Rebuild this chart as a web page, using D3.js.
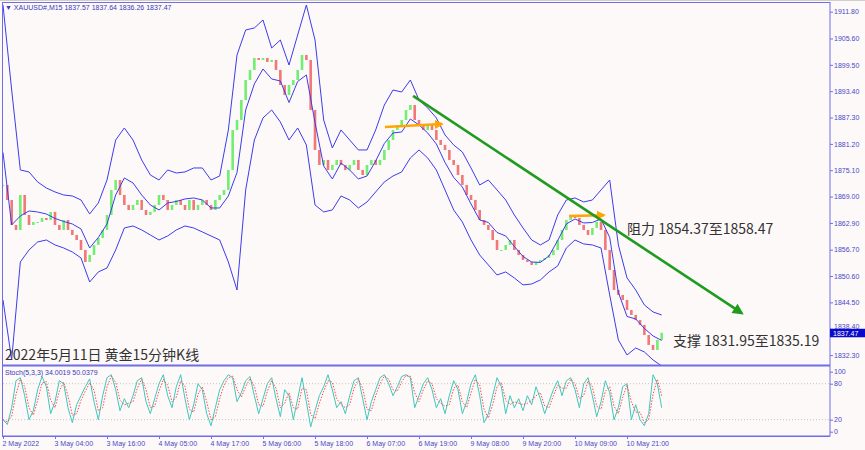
<!DOCTYPE html>
<html><head><meta charset="utf-8">
<script src="https://cdn.jsdelivr.net/npm/d3@7/dist/d3.min.js"></script>
<style>
html,body{margin:0;padding:0;background:#fdf9f9;}
svg{display:block;}
</style></head>
<body>
<svg id="c" width="865" height="450"></svg>
<script>
// ---------- DATA ----------
// hourly closes (one sample every 4 M15 bars)
const closes = [1871.69,1868.21,1862.43,1861.27,1869.37,1864.74,1862.43,1863.12,1863.12,1864.05,
1863.58,1865.44,1862.43,1861.27,1863.58,1861.27,1860.11,1858.95,1856.64,1853.86,
1855.48,1857.80,1859.42,1861.27,1864.74,1870.53,1872.84,1869.37,1867.06,1865.90,
1867.06,1868.21,1865.90,1864.74,1865.44,1867.06,1869.37,1868.21,1865.90,1867.06,
1868.21,1867.06,1865.90,1868.21,1865.90,1867.06,1868.21,1867.06,1865.90,1868.21,
1869.37,1870.53,1875.16,1884.42,1886.73,1891.36,1895.99,1898.31,1901.08,1900.62,
1901.08,1900.16,1900.62,1898.31,1894.83,1892.52,1894.83,1895.99,1898.31,1901.78,
1900.62,1889.05,1879.79,1876.32,1877.48,1875.16,1876.32,1877.48,1876.32,1875.16,
1876.32,1877.48,1875.16,1874.00,1876.32,1877.48,1876.32,1877.48,1879.79,1882.10,
1884.42,1885.57,1886.73,1889.05,1890.20,1886.73,1885.57,1884.42,1885.57,1884.42,
1882.10,1880.95,1879.79,1877.48,1876.32,1874.00,1871.69,1869.37,1868.21,1865.90,
1863.58,1862.43,1861.27,1858.95,1856.64,1856.64,1857.80,1858.95,1856.64,1855.48,
1854.33,1853.86,1853.17,1853.86,1854.33,1854.79,1855.48,1856.64,1858.95,1861.27,
1863.58,1864.74,1864.05,1862.43,1861.27,1860.11,1861.73,1863.12,1861.27,1856.64,
1852.01,1847.38,1846.22,1845.06,1842.75,1841.59,1840.43,1839.28,1836.96,1834.65,
1833.49,1835.81,1837.47];
// Bollinger upper / lower (one sample every 8 M15 bars)
const bandUpper = [1913.35,1893.68,1875.16,1874.70,1872.38,1870.99,1870.07,1869.37,1869.14,1868.21,
1864.97,1867.52,1872.84,1882.10,1884.88,1882.10,1877.48,1874.00,1872.84,1875.16,
1874.46,1874.70,1875.62,1875.62,1872.84,1873.77,1884.42,1901.78,1907.57,1908.03,
1909.88,1903.40,1905.25,1899.46,1906.41,1913.35,1905.25,1886.73,1880.25,1884.42,
1882.10,1879.79,1879.79,1884.42,1890.20,1893.68,1893.21,1895.99,1891.36,1889.51,
1887.20,1883.26,1880.95,1879.32,1875.62,1871.69,1872.84,1870.53,1868.21,1864.74,
1861.73,1858.95,1857.80,1858.95,1864.74,1868.21,1868.68,1867.75,1868.21,1870.53,
1872.84,1857.80,1850.16,1847.38,1843.91,1842.29,1841.59];
const bandLower = [1845.07,1831.18,1853.86,1856.64,1858.49,1858.95,1857.80,1857.10,1856.18,1854.79,
1849.23,1851.55,1852.47,1856.64,1861.73,1862.20,1861.27,1860.11,1858.95,1859.88,
1861.27,1862.20,1861.73,1860.81,1859.88,1858.95,1853.86,1847.38,1870.53,1882.10,
1887.20,1889.05,1886.27,1882.10,1884.88,1880.95,1867.06,1865.44,1865.90,1869.14,
1868.21,1866.36,1867.75,1870.07,1872.38,1873.77,1874.70,1877.94,1879.79,1877.94,
1875.16,1870.53,1865.90,1863.12,1858.95,1855.48,1853.17,1850.85,1851.55,1850.16,
1848.54,1848.77,1849.70,1851.55,1852.94,1857.10,1858.95,1858.03,1857.80,1857.10,
1846.22,1835.81,1832.33,1833.95,1833.03,1831.18,1829.79];
// Stochastic %K (hourly samples)
const stochK = [20,12,40,85,90,60,20,35,70,92,75,30,50,85,80,40,15,45,60,75,
88,50,20,60,90,95,70,35,55,40,60,85,90,50,30,55,80,95,60,40,
75,95,55,20,45,80,70,30,10,40,70,85,95,90,50,65,85,92,60,30,
55,80,90,55,25,70,60,20,55,90,50,8,35,60,75,95,70,40,50,30,
60,85,90,55,20,50,70,90,95,80,60,75,92,95,90,40,60,80,90,70,
40,55,30,60,85,70,30,50,80,95,60,15,30,60,90,75,30,60,40,55,
35,60,45,75,55,30,50,70,85,60,85,90,70,40,80,90,60,25,50,85,
65,20,40,75,80,20,45,20,10,30,95,80,40];
const priceTicks = [1911.80,1905.60,1899.50,1893.40,1887.30,1881.20,1875.10,1869.00,1862.90,1856.70,1850.60,1844.50,1838.40,1832.30];
const stochTicks = [100,80,20,0];
const timeLabels = ["2 May 2022","3 May 04:00","3 May 16:00","4 May 05:00","4 May 17:00","5 May 06:00","5 May 18:00","6 May 07:00","6 May 19:00","9 May 08:00","9 May 20:00","10 May 09:00","10 May 21:00"];
const labelEvery = 48; // bars between time labels
const lastBar = 608;
const header = "\u25BC XAUUSD#,M15  1837.57 1837.64 1836.26 1837.47";
const stochHeader = "Stoch(5,3,3) 34.0019 50.0379";
const lastPrice = 1837.47;
// annotations [bar, price]
const trendGreen = [[378.5,1892.3],[682,1842.0]];
const orange1 = [[352.6,1885.1],[405.2,1885.8]];
const orange2 = [[522.5,1864.5],[554.8,1864.7]];
const notes = [
  {bar:576, price:1861.5, text:"阻力 1854.37至1858.47"},
  {bar:618.5, price:1835.6, text:"支撑 1831.95至1835.19"},
  {bar:1.9, price:1832.4, text:"2022年5月11日 黄金15分钟K线"}
];

// ---------- CHART ----------
const svg = d3.select("#c");
const W=865,H=450;
const left=3, axisX=830, mainTop=3, mainBottom=365, stBottom=436;
const x = d3.scaleLinear().domain([0,lastBar]).range([3,661.7]);
const y = d3.scaleLinear().domain([1832.3,1911.8]).range([355.1,11.7]);
const ys = d3.scaleLinear().domain([0,100]).range([431.7,371.7]);
const axisCol="#6e6ee6", txtCol="#4848c8";

svg.append("rect").attr("width",W).attr("height",H).attr("fill","#fdf9f9");
svg.append("line").attr("x1",0).attr("x2",W).attr("y1",0.5).attr("y2",0.5).attr("stroke","#cfcfcf");

const defs = svg.append("defs");
defs.append("clipPath").attr("id","cm").append("rect").attr("x",left).attr("y",mainTop).attr("width",axisX-left).attr("height",mainBottom-mainTop);
defs.append("clipPath").attr("id","cs").append("rect").attr("x",left).attr("y",366).attr("width",axisX-left).attr("height",stBottom-366);
function marker(id,col,w,h){
  defs.append("marker").attr("id",id).attr("viewBox","0 0 10 10").attr("refX",8).attr("refY",5)
   .attr("markerWidth",w).attr("markerHeight",h).attr("markerUnits","userSpaceOnUse").attr("orient","auto")
   .append("path").attr("d","M0,0L10,5L0,10z").attr("fill",col);
}
marker("ag","#1f9c1f",13,11);
marker("ao","#ffa500",9,9);

const gm = svg.append("g").attr("clip-path","url(#cm)");

// candles
const candles = closes.map((c,i)=>({bar:i*4, o: i? closes[i-1]:c, c}));
gm.append("g").selectAll("rect").data(candles).join("rect")
  .attr("x",d=>x(d.bar)-1.3).attr("width",2.6)
  .attr("y",d=>y(Math.max(d.o,d.c)))
  .attr("height",d=>Math.max(1,Math.abs(y(d.o)-y(d.c))))
  .attr("fill",d=>d.c>=d.o?"#72ee72":"#f27878");

// bands
const bands = bandUpper.map((u,k)=>({bar:k*8,u,l:bandLower[k],m:(u+bandLower[k])/2}));
const bl = key=>d3.line().x(d=>x(d.bar)).y(d=>y(d[key]));
["u","m","l"].forEach(k=>gm.append("path").datum(bands).attr("d",bl(k)).attr("fill","none").attr("stroke","#3c3cec").attr("stroke-width",1));

// annotations
const ln = d3.line().x(d=>x(d[0])).y(d=>y(d[1]));
svg.append("path").datum(trendGreen).attr("d",ln).attr("stroke","#1f9c1f").attr("stroke-width",2.6).attr("fill","none").attr("marker-end","url(#ag)");
[orange1,orange2].forEach(o=>gm.append("path").datum(o).attr("d",ln).attr("stroke","#ffa500").attr("stroke-width",2.5).attr("fill","none").attr("marker-end","url(#ao)"));

svg.selectAll("text.note").data(notes).join("text").attr("class","note")
  .attr("x",d=>x(d.bar)).attr("y",d=>y(d.price)).attr("dy","0.35em")
  .attr("font-family","'Noto Sans CJK SC','Noto Sans',sans-serif").attr("font-size",14).attr("fill","#333")
  .text(d=>d.text);

// header
svg.append("text").attr("x",5).attr("y",10).attr("font-family","'Liberation Sans',Arial,sans-serif").attr("font-size",7).attr("fill","#3a3ab8").text(header);

// stochastic panel
const gs = svg.append("g").attr("clip-path","url(#cs)");
[80,20].forEach(v=>gs.append("line").attr("x1",left).attr("x2",axisX).attr("y1",ys(v)).attr("y2",ys(v)).attr("stroke","#c4c4c4").attr("stroke-dasharray","1,2"));
const kData = stochK.map((v,i)=>({bar:i*4,v}));
const dData = stochK.map((v,i)=>({bar:i*4,v:d3.mean(stochK.slice(Math.max(0,i-1),i+1))}));
const sl = d3.line().x(d=>x(d.bar)).y(d=>ys(d.v));
gs.append("path").datum(kData).attr("d",sl).attr("fill","none").attr("stroke","#3ec8bd").attr("stroke-width",1);
gs.append("path").datum(dData).attr("d",sl).attr("fill","none").attr("stroke","#ff4a4a").attr("stroke-width",1).attr("stroke-dasharray","1.5,1.5");
svg.append("text").attr("x",5).attr("y",375).attr("font-family","'Liberation Sans',Arial,sans-serif").attr("font-size",7).attr("fill","#3a3ab8").text(stochHeader);

// frame
svg.append("rect").attr("x",2.5).attr("y",2.5).attr("width",axisX-2.5).attr("height",stBottom-2.5).attr("fill","none").attr("stroke",axisCol);
svg.append("line").attr("x1",2).attr("x2",axisX).attr("y1",365.5).attr("y2",365.5).attr("stroke",axisCol).attr("stroke-width",2);

// right price axis
const ya = svg.append("g").attr("transform",`translate(${axisX},0)`)
  .call(d3.axisRight(y).tickValues(priceTicks).tickFormat(d3.format(".2f")).tickSize(3).tickPadding(1));
const sa = svg.append("g").attr("transform",`translate(${axisX},0)`)
  .call(d3.axisRight(ys).tickValues(stochTicks).tickFormat(d3.format("d")).tickSize(3).tickPadding(1));
// bottom time axis
const xa = svg.append("g").attr("transform",`translate(0,${stBottom})`)
  .call(d3.axisBottom(x).tickValues(timeLabels.map((t,j)=>j*labelEvery)).tickFormat((d,j)=>timeLabels[j]).tickSize(3).tickPadding(2));
xa.selectAll("text").attr("text-anchor","start").attr("dx",-1);
[ya,sa,xa].forEach(g=>{
  g.select(".domain").remove();
  g.selectAll("line").attr("stroke",axisCol);
  g.selectAll("text").attr("fill",txtCol).attr("font-family","'Liberation Sans',Arial,sans-serif").attr("font-size",7);
});
svg.append("line").attr("x1",2).attr("x2",axisX).attr("y1",stBottom+0.5).attr("y2",stBottom+0.5).attr("stroke",axisCol);
// the 1838.40 label sits partly under the price tag, as in the original
ya.selectAll(".tick").filter(d=>Math.abs(d-1838.4)<0.01).select("text").attr("dy","-0.05em");

// last price tag
const lp = svg.append("g").attr("transform",`translate(${axisX},${y(lastPrice)})`);
lp.append("rect").attr("x",0).attr("y",-4).attr("width",35).attr("height",8.5).attr("fill","#0a0acc");
lp.append("text").attr("x",3).attr("y",0.3).attr("dy","0.35em").attr("fill","#fff").attr("font-family","'Liberation Sans',Arial,sans-serif").attr("font-size",7).text(d3.format(".2f")(lastPrice));
</script>
</body></html>
